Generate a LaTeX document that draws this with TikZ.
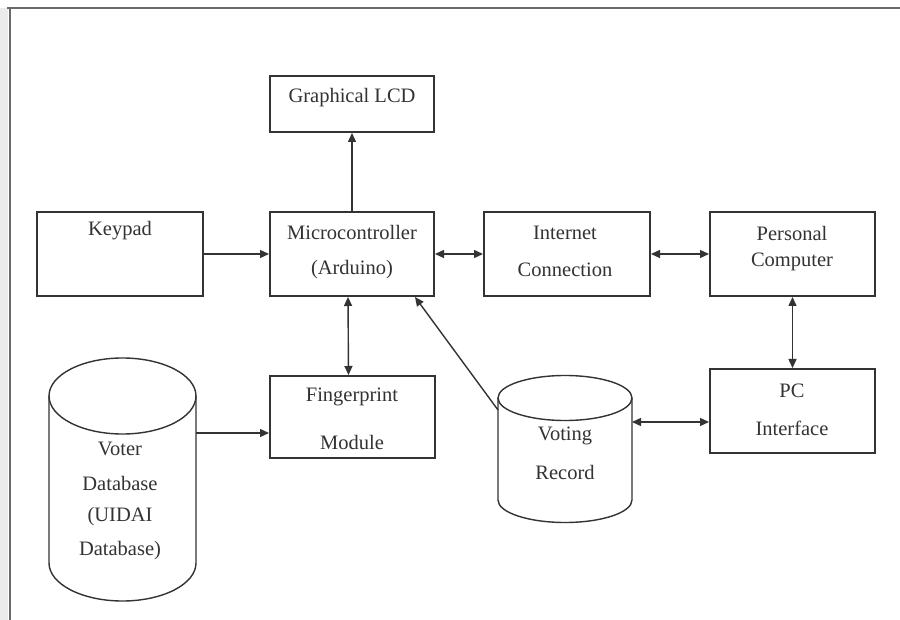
\documentclass[tikz,border=0pt]{standalone}
\usepackage{fontspec}
\setmainfont{Liberation Serif}
\usetikzlibrary{arrows.meta}
\definecolor{ink}{HTML}{333333}
\definecolor{frame}{HTML}{6A6A6A}
\tikzset{
  blk/.style={draw=ink, line width=2pt, rectangle, inner sep=0pt},
  lbl/.style={text=ink, font=\fontsize{20.5}{22}\selectfont, inner sep=0pt},
  conn/.style={draw=ink, line width=1.4pt},
  tip/.style={-{Triangle[length=9pt,width=8pt]}},
  tips/.style={{Triangle[length=9pt,width=8pt]}-{Triangle[length=9pt,width=8pt]}},
  cyl/.style={draw=ink, line width=1.4pt}
}
\begin{document}
\begin{tikzpicture}[x=1pt,y=-1pt]
\useasboundingbox (0,0) rectangle (900,620);
\fill[white] (0,0) rectangle (900,620);
% page frame
\fill[black!8] (0,8) rectangle (8,620);
\draw[frame, line width=2pt] (7,8) -- (900,8);
\draw[frame, line width=2pt] (10,8) -- (10,620);

% boxes
\node[blk, minimum width=164pt, minimum height=56pt] (lcd) at (352,104) {};
\node[blk, minimum width=166pt, minimum height=84pt] (kp) at (120,254) {};
\node[blk, minimum width=164pt, minimum height=84pt] (mc) at (352,254) {};
\node[blk, minimum width=166pt, minimum height=84pt] (ic) at (567,254) {};
\node[blk, minimum width=165pt, minimum height=84pt] (pc) at (792.5,254) {};
\node[blk, minimum width=165pt, minimum height=82pt] (fp) at (352.5,417) {};
\node[blk, minimum width=165pt, minimum height=84pt] (pci) at (792.5,411) {};

% texts
\node[lbl] (t-lcd) at (352,98) {Graphical LCD};
\node[lbl] (t-kp) at (120,231) {Keypad};
\node[lbl] (t-mc1) at (352,232) {Microcontroller};
\node[lbl] (t-mc2) at (352,270) {(Arduino)};
\node[lbl] (t-ic1) at (565,233) {Internet};
\node[lbl] (t-ic2) at (565,270) {Connection};
\node[lbl] (t-pc1) at (792,233) {Personal};
\node[lbl] (t-pc2) at (792,262) {Computer};
\node[lbl] (t-fp1) at (352,397) {Fingerprint};
\node[lbl] (t-fp2) at (352,442) {Module};
\node[lbl] (t-pci1) at (792,391) {PC};
\node[lbl] (t-pci2) at (792,428) {Interface};

% Voter database cylinder
\draw[cyl] (49,396) -- (49,563) arc[start angle=180, end angle=360, x radius=73.5pt, y radius=38pt] -- (196,396);
\draw[cyl] (122.5,396) ellipse [x radius=73.5pt, y radius=38pt];
\node[lbl] (t-vd1) at (120,449) {Voter};
\node[lbl] (t-vd2) at (120,483) {Database};
\node[lbl] (t-vd3) at (120,517) {(UIDAI};
\node[lbl] (t-vd4) at (120,551) {Database)};
\coordinate (vdbR) at (196,433);

% Voting record cylinder
\draw[cyl] (498,398) -- (498,500) arc[start angle=180, end angle=360, x radius=67pt, y radius=22.5pt] -- (632,398);
\draw[cyl] (565,398) ellipse [x radius=67pt, y radius=22.5pt];
\node[lbl] (t-vr1) at (565,436) {Voting};
\node[lbl] (t-vr2) at (565,472) {Record};
\coordinate (vrR) at (632,422);
\coordinate (vrL) at (498,410);
\coordinate (mcin) at (415,297);

% connectors
\draw[conn, tip] (kp.east) -- (mc.west);
\draw[conn, tips] (mc.east) -- (ic.west);
\draw[conn, tips] (ic.east) -- (pc.west);
\draw[conn, tip] (mc.north) -- (lcd.south);
\draw[conn, tips] ([xshift=-4pt]mc.south) -- ([xshift=-4pt]fp.north);
\draw[conn, tips] (pc.south) -- (pci.north);
\draw[conn, tip] (vdbR) -- (vdbR -| fp.west);
\draw[conn, tips] (vrR) -- (vrR -| pci.west);
\draw[conn, tip] (vrL) -- (mcin);
\end{tikzpicture}
\end{document}
